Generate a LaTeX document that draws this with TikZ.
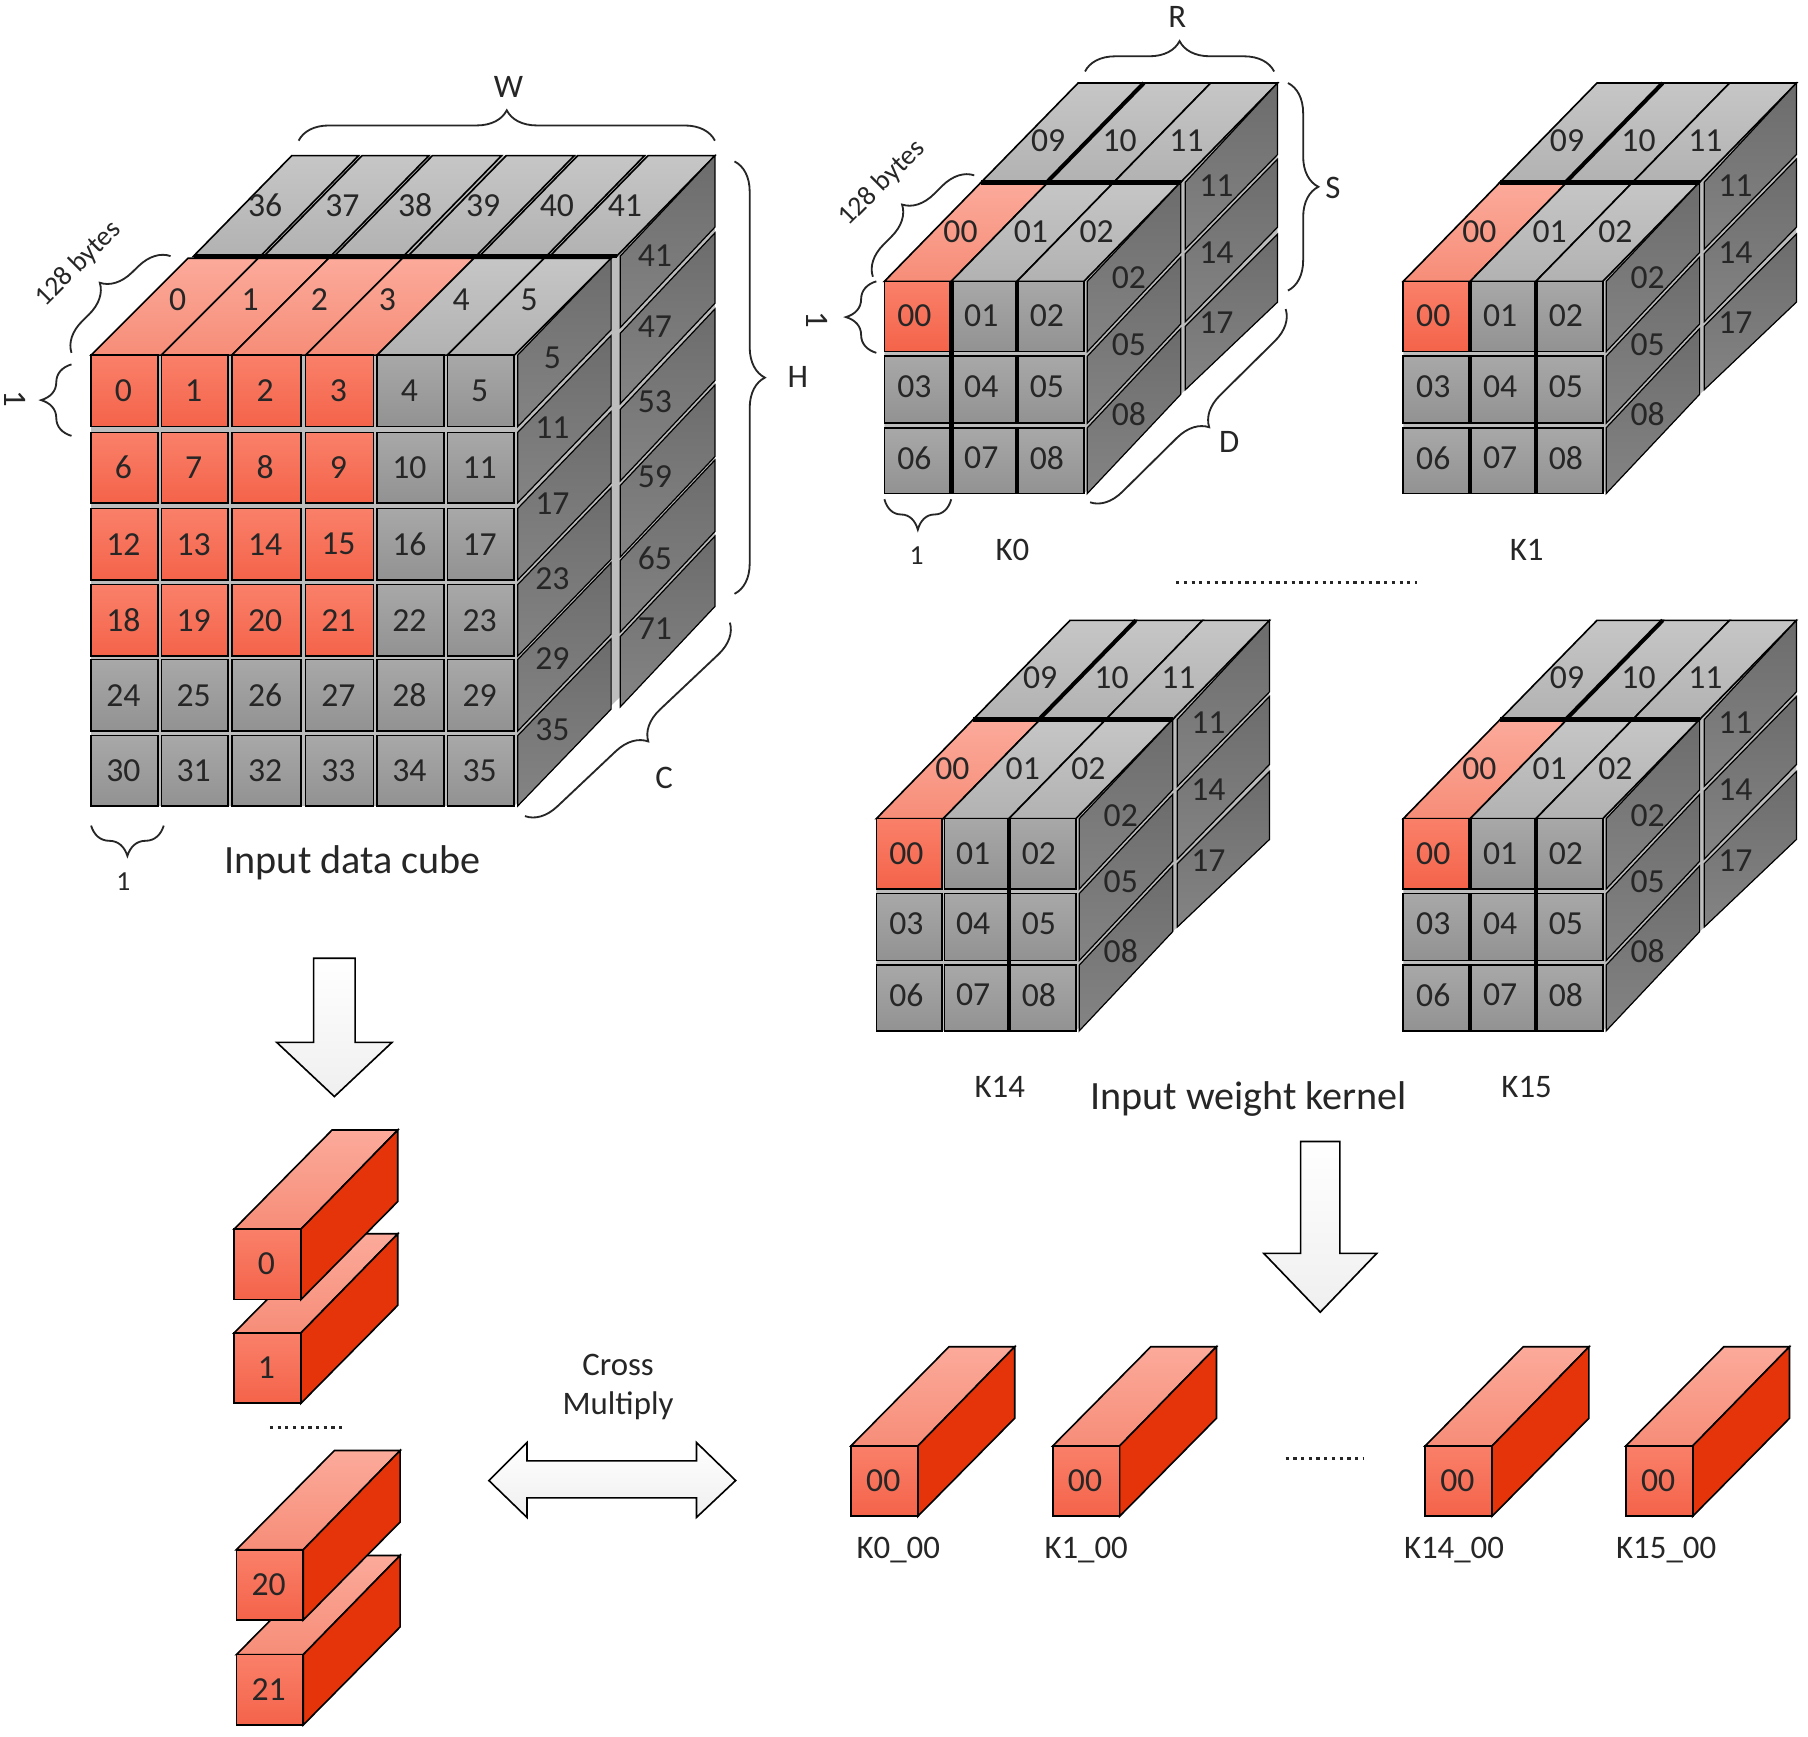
\documentclass[tikz,border=0pt]{standalone}
\usepackage{fontspec}
\setmainfont{Carlito}
\usetikzlibrary{decorations.pathreplacing}

\tikzset{
	frontgrey/.style={draw=black,line width=.4pt,top color=FrontGreyA,bottom color=FrontGreyB},
	frontred/.style={draw=black,line width=.4pt,top color=FrontRedA,bottom color=FrontRedB},
	topgrey/.style={draw=black,line width=.4pt,top color=TopGreyA,bottom color=TopGreyB},
	topred/.style={draw=black,line width=.4pt,top color=TopRedA,bottom color=TopRedB},
	sidegrey/.style={draw=black,line width=.3pt,top color=SideGreyA,bottom color=SideGreyB},
	sidered/.style={draw=black,line width=.4pt,fill=SideRed},
	backing/.style={fill=GapGrey},
	celltext/.style={text=TextGrey,font=\fontsize{8.3}{10}\selectfont,inner sep=0pt},
	captext/.style={text=TextGrey,font=\fontsize{8.1}{10}\selectfont,inner sep=0pt},
	bytestext/.style={text=TextGrey,font=\fontsize{6.8}{8}\selectfont,inner sep=0pt},
	titletext/.style={text=TextGrey,font=\fontsize{9.9}{12}\selectfont,inner sep=0pt},
	bigbrace/.style={draw=TextGrey,line width=.45pt,decorate,decoration={brace,amplitude=7.5pt}},
	bigarrow/.style={draw=black,line width=.4pt,top color=white,bottom color=ArrowGrey},
	dotrow/.style={draw=TextGrey,line width=.8pt,dash pattern=on .8pt off 1.1pt}
}
\definecolor{FrontGreyA}{HTML}{A8A8A8}
\definecolor{FrontGreyB}{HTML}{929292}
\definecolor{FrontRedA}{HTML}{FA8069}
\definecolor{FrontRedB}{HTML}{F4634A}
\definecolor{TopGreyA}{HTML}{C6C6C6}
\definecolor{TopGreyB}{HTML}{B2B2B2}
\definecolor{TopRedA}{HTML}{FCAA9B}
\definecolor{TopRedB}{HTML}{F68D78}
\definecolor{SideGreyA}{HTML}{6C6C6C}
\definecolor{SideGreyB}{HTML}{848484}
\definecolor{SideRed}{HTML}{E6340A}
\definecolor{GapGrey}{HTML}{BDBDBD}
\definecolor{TextGrey}{HTML}{262626}
\definecolor{ArrowGrey}{HTML}{EFEFEF}

% one kernel cube : shift x, shift y, name, place of the black bar
\newcommand{\kernelcube}[4]{
	\begin{scope}[shift={(#1,#2)}]
		\fill[backing] (767,244) -- (851,158) -- (940,72) -- (1108,72) -- (1108,262) -- (1024,342) -- (940,428) -- (767,428) -- cycle;
		% bloc arriere
		\foreach \xa/\xb in {851/908,908/966,966/1024}
			\draw[topgrey] (\xa,158) -- (\xb,158) -- (\xb+84,72) -- (\xa+84,72) -- cycle;
		\draw[sidegrey] (1028,158) -- (1108,72) -- (1108,134) -- (1028,216) -- cycle;
		\draw[sidegrey] (1028,220) -- (1108,138) -- (1108,197) -- (1028,279) -- cycle;
		\draw[sidegrey] (1028,283) -- (1108,203) -- (1108,262) -- (1028,338) -- cycle;
		\draw[line width=1pt] (908,158) -- (992,72);
		% bloc avant
		\draw[topred] (767,244) -- (825,244) -- (909,158) -- (851,158) -- cycle;
		\draw[topgrey] (825,244) -- (882,244) -- (966,158) -- (909,158) -- cycle;
		\draw[topgrey] (882,244) -- (940,244) -- (1024,158) -- (966,158) -- cycle;
		\foreach \ya/\yb in {244/305,309/367,371/428}
			\draw[sidegrey] (943,\ya) -- (1024,\ya-86) -- (1024,\yb-86) -- (943,\yb) -- cycle;
		\foreach \xa/\xb in {767/824,826/881,883/940}
			\foreach \ya/\yb in {244/305,309/367,371/428}
				\draw[frontgrey] (\xa,\ya) rectangle (\xb,\yb);
		\draw[frontred] (767,244) rectangle (824,305);
		\draw[line width=1.2pt] (851,158) -- (1024,158);
		\draw[line width=1.1pt] (#4,244) -- (#4,428);
		% textes
		\foreach \px/\py/\lab in {793/274/00,851/274/01,908/274/02,793/335/03,851/335/04,908/335/05,793/397/06,851/397/07,908/397/08,
			833/201/00,894/201/01,951/201/02,909/122/09,971/122/10,1029/122/11,
			979/241/02,979/299/05,979/359/08,1055/161/11,1055/219/14,1055/280/17}
			\node[celltext] (#3-\px-\py) at (\px,\py) {\lab};
	\end{scope}
}

% one red bar : x, y of the front face, label, name
\newcommand{\redbar}[4]{
	\draw[topred] (#1,#2) -- (#1+58,#2) -- (#1+142,#2-86) -- (#1+85,#2-86) -- cycle;
	\draw[sidered] (#1+58,#2) -- (#1+142,#2-86) -- (#1+142,#2-24) -- (#1+58,#2+61) -- cycle;
	\draw[frontred] (#1,#2) rectangle (#1+58,#2+61);
	\node[celltext] (#4) at (#1+28,#2+30) {#3};
}

\begin{document}
\begin{tikzpicture}[x=0.01cm,y=-0.01cm]
	\useasboundingbox[fill=white] (0,0) rectangle (1568,1506);

	%Cube de donnees
	\fill[backing] (79,308) -- (168,222) -- (255,135) -- (620,135) -- (620,525) -- (530,612) -- (446,699) -- (79,699) -- cycle;
	%Bloc arriere
	\foreach \xa/\xb in {168/226,229/287,290/350,354/413,416/474,477/535}
		\draw[topgrey] (\xa,222) -- (\xb,222) -- (\xb+85,135) -- (\xa+85,135) -- cycle;
	\foreach \ya/\yb in {222/284,289/350,355/417,421/483,486/548,552/613}
		\draw[sidegrey] (538,\ya) -- (620,\ya-87) -- (620,\yb-87) -- (538,\yb) -- cycle;
	\draw[line width=1pt] (168,222) -- (535,222);
	%Bloc avant
	\foreach \xa/\xb/\st in {79/140/topred,140/201/topred,201/265/topred,265/327/topred,327/388/topgrey,388/446/topgrey}
		\draw[\st] (\xa,308) -- (\xb,308) -- (\xb+84,224) -- (\xa+84,224) -- cycle;
	\foreach \ya/\yb in {308/370,375/436,441/503,507/569,572/634,638/699}
		\draw[sidegrey] (449,\ya) -- (530,\ya-84) -- (530,\yb-84) -- (449,\yb) -- cycle;
	\foreach \xa/\xb [count=\c from 0] in {79/137,140/198,201/261,265/324,327/385,388/446}
		\foreach \ya/\yb [count=\r from 0] in {308/370,375/436,441/503,507/569,572/634,638/699}{
			\pgfmathtruncatemacro{\num}{\c+6*\r}
			\def\st{frontgrey}
			\ifnum\c<4 \ifnum\r<4 \def\st{frontred}\fi\fi
			\draw[\st] (\xa,\ya) rectangle (\xb,\yb);
			\node[celltext] (F\num) at ({(\xa+\xb)/2-1},{(\ya+\yb)/2}) {\num};
		}
	%Etiquettes du dessus et du cote
	\foreach \px/\lab in {154/0,217/1,277/2,336/3,400/4,459/5}
		\node[celltext] (T\lab) at (\px,260) {\lab};
	\foreach \px/\lab in {230/36,297/37,360/38,419/39,483/40,542/41}
		\node[celltext] (T\lab) at (\px,178) {\lab};
	\foreach \py/\lab in {310/5,371/11,437/17,502/23,571/29,633/35}
		\node[celltext] (S\lab) at (479,\py) {\lab};
	\foreach \py/\lab in {222/41,283/47,348/53,413/59,484/65,545/71}
		\node[celltext] (B\lab) at (568,\py) {\lab};

	%Accolades du cube
	\draw[bigbrace] (259,122) -- (620,122);
	\draw[bigbrace] (637,140) -- (637,515);
	\draw[bigbrace] (633,540) -- (455,708);
	\draw[bigbrace] (62,306) -- (148,222);
	\draw[bigbrace] (62,378) -- (62,316);
	\draw[bigbrace] (142,716) -- (79,716);
	\node[captext] (W) at (441,75) {W};
	\node[captext] (H) at (692,327) {H};
	\node[captext] (C) at (576,675) {C};
	\node[bytestext,rotate=45] (bytesA) at (68,229) {128 bytes};
	\node[captext,rotate=-90] (oneA) at (13,346) {1};
	\node[bytestext] (oneB) at (107,765) {1};
	\node[titletext] (dataCube) at (306,748) {Input data cube};

	%Cubes des noyaux
	\kernelcube{0}{0}{KA}{825}
	\kernelcube{450}{0}{KB}{882}
	\kernelcube{-7}{466}{KC}{882}
	\kernelcube{450}{466}{KD}{882}

	%Accolades du noyau
	\draw[bigbrace] (941,62) -- (1105,62);
	\draw[bigbrace] (1117,72) -- (1117,252);
	\draw[bigbrace] (1115,268) -- (945,436);
	\draw[bigbrace] (757,240) -- (845,152);
	\draw[bigbrace] (760,306) -- (760,244);
	\draw[bigbrace] (825,433) -- (767,433);
	\node[captext] (R) at (1021,15) {R};
	\node[captext] (S) at (1156,163) {S};
	\node[captext] (D) at (1066,383) {D};
	\node[bytestext,rotate=45] (bytesB) at (765,159) {128 bytes};
	\node[captext,rotate=-90] (oneC) at (709,277) {1};
	\node[bytestext] (oneD) at (795,482) {1};
	\node[captext] (K0) at (878,477) {K0};
	\node[captext] (K1) at (1324,477) {K1};
	\node[captext] (K14) at (867,943) {K14};
	\node[captext] (K15) at (1324,943) {K15};
	\node[titletext] (weightKernel) at (1083,953) {Input weight kernel};
	\draw[dotrow] (1020,505) -- (1229,505);

	%Fleches
	\draw[bigarrow] (272,831) -- (308,831) -- (308,904) -- (340,904) -- (290,951) -- (240,904) -- (272,904) -- cycle;
	\draw[bigarrow] (1128,990) -- (1162,990) -- (1162,1087) -- (1194,1087) -- (1145,1138) -- (1096,1087) -- (1128,1087) -- cycle;
	\draw[bigarrow] (424,1284) -- (457,1251) -- (457,1267) -- (604,1267) -- (604,1251) -- (638,1284) -- (604,1316) -- (604,1299) -- (457,1299) -- (457,1316) -- cycle;
	\node[captext] (cross) at (536,1184) {Cross};
	\node[captext] (multiply) at (536,1219) {Multiply};

	%Barres rouges
	\redbar{203}{1156}{1}{barB}
	\redbar{203}{1066}{0}{barA}
	\draw[dotrow] (234,1238) -- (300,1238);
	\redbar{205}{1435}{21}{barD}
	\redbar{205}{1344}{20}{barC}
	\redbar{738}{1254}{00}{barK0}
	\redbar{913}{1254}{00}{barK1}
	\redbar{1236}{1254}{00}{barK14}
	\redbar{1410}{1254}{00}{barK15}
	\draw[dotrow] (1115,1265) -- (1182,1265);
	\node[captext] (K0bar) at (779,1344) {K0\_00};
	\node[captext] (K1bar) at (942,1344) {K1\_00};
	\node[captext] (K14bar) at (1261,1344) {K14\_00};
	\node[captext] (K15bar) at (1445,1344) {K15\_00};
\end{tikzpicture}
\end{document}
